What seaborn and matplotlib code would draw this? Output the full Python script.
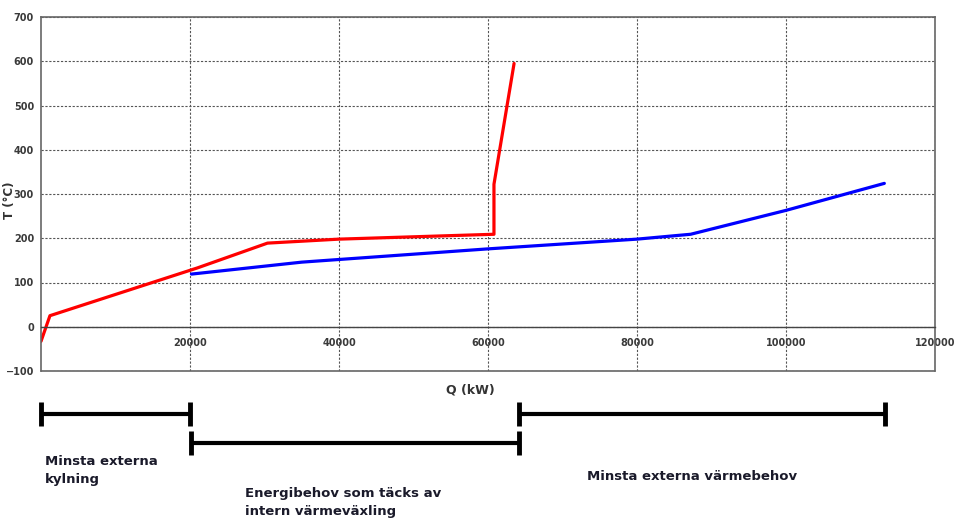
import matplotlib
matplotlib.use("Agg")
import matplotlib.pyplot as plt
import matplotlib.transforms as mtransforms
from matplotlib.ticker import MultipleLocator
import seaborn as sns
import pandas as pd

sns.set_theme(style="white")
plt.rcParams['font.family'] = ['DejaVu Sans']

# Data
hot_q = [0, 1200, 21000, 30400, 40000, 60800, 60800, 63500]
hot_t = [-33, 25, 133, 189, 198, 209, 322, 595]
cold_q = [20200, 35000, 60000, 80000, 87200, 100000, 113200]
cold_t = [119, 146, 176, 198, 209, 263, 324]

x_ticks = [20000, 40000, 60000, 80000, 100000, 120000]
y_ticks = [-100, 0, 100, 200, 300, 400, 500, 600, 700]

bracket_ranges = [(0, 20000), (20200, 64200), (64200, 113300)]
bracket_levels = [0, 1, 0]
bracket_texts = ["Minsta externa\nkylning",
                 "Energibehov som täcks av\nintern värmeväxling",
                 "Minsta externa värmebehov"]

hot = pd.DataFrame({"Q": hot_q, "T": hot_t})
cold = pd.DataFrame({"Q": cold_q, "T": cold_t})

fig = plt.figure(figsize=(9.55, 5.25), dpi=100)
ax = fig.add_axes([41/955, 1-371/525, (935-41)/955, (371-17)/525])

sns.lineplot(data=hot, x="Q", y="T", sort=False, estimator=None, color="#ff0000", lw=2.3, ax=ax)
sns.lineplot(data=cold, x="Q", y="T", sort=False, estimator=None, color="#0000ff", lw=2.3, ax=ax)

ax.set_xlim(0, 120000)
ax.set_ylim(-100, 700)
ax.set_xticks(x_ticks)
ax.set_yticks(y_ticks)
ax.xaxis.set_minor_locator(MultipleLocator(4000))
ax.yaxis.set_minor_locator(MultipleLocator(20))
ax.grid(True, which="major", color="#555555", linestyle=(0, (2, 1.5)), lw=0.8)
ax.set_xlabel("")
ax.set_ylabel("")

for s in ["top", "right", "left"]:
    ax.spines[s].set_color("#666666")
    ax.spines[s].set_linewidth(1.2)
ax.spines["bottom"].set_position(("data", 0))
ax.spines["bottom"].set_color("#444444")
ax.spines["bottom"].set_linewidth(1.0)
ax.plot([0, 1], [0, 0], transform=ax.transAxes, color="#666666", lw=1.2, clip_on=False)

ax.tick_params(axis="both", which="major", direction="out", length=3, width=0.8,
               color="#444444", labelsize=7, labelcolor="#3a3a3a", pad=2)
ax.tick_params(axis="both", which="minor", direction="out", length=2, width=0.6, color="#444444")
ax.tick_params(axis="x", pad=5)
for lab in ax.get_xticklabels() + ax.get_yticklabels():
    lab.set_fontweight("bold")

fig.text(9/955, 1-200/525, "T (°C)", rotation=90, ha="center", va="center",
         fontsize=8.5, fontweight="bold", color="#333333")
fig.text(470/955, 1-390/525, "Q (kW)", ha="center", va="center",
         fontsize=9, fontweight="bold", color="#333333")

# Brackets below the chart
trans = mtransforms.blended_transform_factory(ax.transData, fig.transFigure)
level_y = [1-414/525, 1-443/525]
cap = 12/525
for (x0, x1), lvl in zip(bracket_ranges, bracket_levels):
    y = level_y[lvl]
    ax.plot([x0, x1], [y, y], transform=trans, color="black", lw=3, clip_on=False,
            solid_capstyle="butt")
    for xx in (x0, x1):
        ax.plot([xx, xx], [y-cap, y+cap], transform=trans, color="black", lw=3.5,
                clip_on=False, solid_capstyle="butt")

text_pos = [(45, 455), (245, 487), (587, 470)]
for (tx, ty), txt in zip(text_pos, bracket_texts):
    fig.text(tx/955, 1-ty/525, txt, ha="left", va="top", fontsize=9.5,
             fontweight="bold", color="#1a1a2a", linespacing=1.5)

fig.savefig("out.png", dpi=100)
